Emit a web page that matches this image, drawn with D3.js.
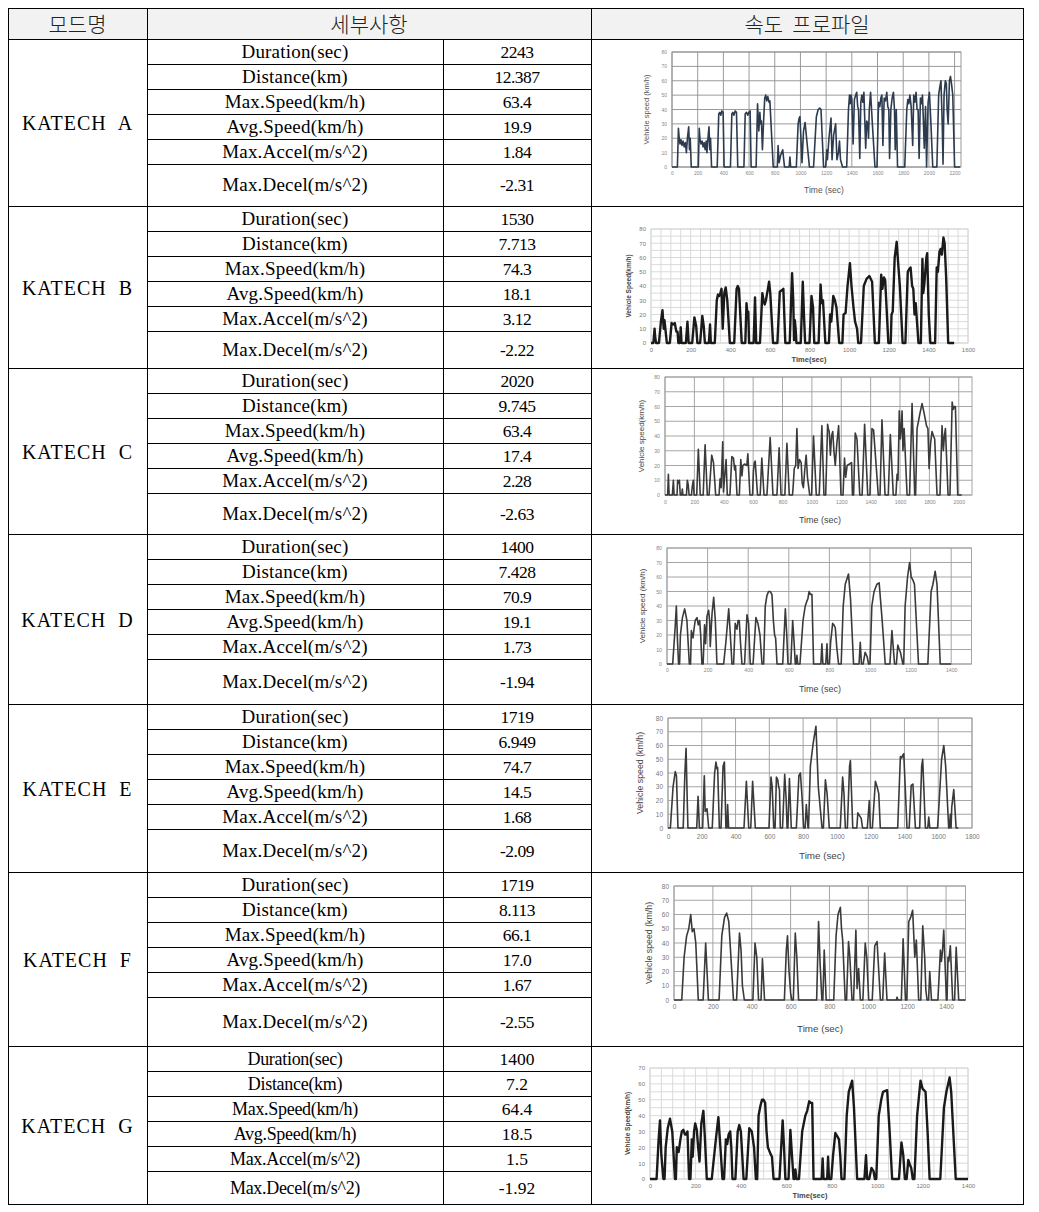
<!DOCTYPE html>
<html><head><meta charset="utf-8">
<script src="https://cdn.jsdelivr.net/npm/d3@7"></script>
<style>body{margin:0;background:#fff}text{white-space:pre}</style>
</head><body><svg id="c" width="1039" height="1212"></svg>
<script>
// ---------------- DATA ----------------
const headers = ["모드명", "세부사항", "속도  프로파일"];
const modes = ["KATECH  A","KATECH  B","KATECH  C","KATECH  D","KATECH  E","KATECH  F","KATECH  G"];
const detailLabels = ["Duration(sec)","Distance(km)","Max.Speed(km/h)","Avg.Speed(km/h)","Max.Accel(m/s^2)","Max.Decel(m/s^2)"];
const valuesA = ["2243","12.387","63.4","19.9","1.84","-2.31"];
const valuesB = ["1530","7.713","74.3","18.1","3.12","-2.22"];
const valuesC = ["2020","9.745","63.4","17.4","2.28","-2.63"];
const valuesD = ["1400","7.428","70.9","19.1","1.73","-1.94"];
const valuesE = ["1719","6.949","74.7","14.5","1.68","-2.09"];
const valuesF = ["1719","8.113","66.1","17.0","1.67","-2.55"];
const valuesG = ["1400","7.2","64.4","18.5","1.5","-1.92"];

const xTicksA = [0,200,400,600,800,1000,1200,1400,1600,1800,2000,2200];
const xTicksB = [0,200,400,600,800,1000,1200,1400,1600];
const xTicksC = [0,200,400,600,800,1000,1200,1400,1600,1800,2000];
const xTicksD = [0,200,400,600,800,1000,1200,1400];
const xTicksE = [0,200,400,600,800,1000,1200,1400,1600,1800];
const xTicksF = [0,200,400,600,800,1000,1200,1400];
const xTicksG = [0,200,400,600,800,1000,1200,1400];
const yTicks80 = [0,10,20,30,40,50,60,70,80];
const yTicks70 = [0,10,20,30,40,50,60,70];

const yTitles = ["Vehicle speed (km/h)","Vehicle Speed(km/h)","Vehicle speed(km/h)","Vehicle speed (km/h)","Vehicle speed (km/h)","Vehicle speed (km/h)","Vehicle Speed(km/h)"];
const xTitles = ["Time (sec)","Time(sec)","Time (sec)","Time (sec)","Time (sec)","Time (sec)","Time(sec)"];

// speed profiles [time(sec), speed(km/h)]
const profileA = [[0,0],[42,0],[50,27],[56,20],[62,16],[70,19],[78,15],[86,18],[95,14],[104,17],[112,10],[120,20],[130,28],[136,12],[142,20],[150,0],
[205,0],[212,27],[218,19],[226,16],[234,18],[242,14],[250,17],[258,12],[266,18],[272,10],[280,20],[288,28],[294,12],[300,20],[308,0],
[352,0],[364,37],[372,38],[380,36],[388,39],[398,38],[406,0],
[455,0],[466,37],[474,38],[482,36],[492,39],[502,38],[512,0],
[560,0],[570,37],[580,38],[590,36],[598,38],[608,39],[616,0],
[655,0],[666,44],[676,25],[684,38],[690,30],[696,32],[704,12],[712,30],[722,48],[730,50],[738,46],[746,49],[756,45],[762,46],[788,0],
[820,0],[826,15],[834,3],[845,8],[862,12],[870,5],[876,0],
[912,0],[918,7],[924,0],
[968,0],[982,30],[990,34],[996,35],[1004,20],[1012,3],[1024,25],[1036,31],[1048,20],[1070,0],
[1102,0],[1124,35],[1138,40],[1150,41],[1160,40],[1180,0],
[1196,0],[1200,5],[1205,12],[1210,5],[1222,20],[1238,34],[1246,5],[1258,22],[1274,30],[1284,5],[1296,10],[1304,18],[1312,5],[1328,0],
[1360,0],[1374,40],[1382,50],[1388,44],[1394,50],[1400,47],[1410,16],[1420,47],[1430,50],[1438,52],[1446,42],[1452,40],[1462,6],[1470,45],[1478,50],[1486,45],[1494,52],[1500,35],[1508,13],[1516,32],[1524,30],[1530,20],[1536,40],[1546,52],[1560,30],[1580,0],
[1596,0],[1608,45],[1618,42],[1626,48],[1634,50],[1642,15],[1652,48],[1662,46],[1672,52],[1680,42],[1688,40],[1694,6],[1704,40],[1714,48],[1724,52],[1732,40],[1738,12],[1746,40],[1756,0],
[1812,0],[1828,40],[1836,47],[1844,44],[1852,50],[1862,42],[1874,15],[1882,50],[1890,45],[1900,52],[1908,40],[1916,40],[1924,6],[1934,48],[1942,44],[1950,50],[1958,30],[1964,13],[1974,42],[1982,0],[1994,45],[2004,52],[2016,30],[2030,0],
[2062,0],[2076,50],[2084,55],[2094,60],[2104,30],[2110,2],[2118,50],[2128,60],[2136,58],[2142,40],[2150,30],[2160,60],[2168,63],[2176,58],[2186,50],[2200,0],[2243,0]];

const profileB = [[0,0],[12,0],[18,10],[22,3],[26,0],
[40,0],[50,15],[58,23],[64,10],[68,16],[74,8],[80,0],
[95,0],[104,14],[112,13],[120,14],[128,8],[134,8],[138,0],
[146,0],[150,11],[154,0],[176,0],[184,15],[190,0],
[208,0],[219,18],[228,12],[234,0],[248,0],[259,19],[266,12],[272,0],[292,0],[298,13],[302,0],
[322,0],[332,30],[338,34],[344,33],[350,35],[356,38],[362,10],[370,35],[377,39],[385,30],[398,0],
[420,0],[432,38],[438,40],[444,38],[458,0],
[476,0],[482,28],[487,20],[491,22],[495,0],[518,0],[525,32],[531,0],
[550,0],[562,35],[568,30],[574,27],[580,30],[590,38],[596,43],[602,35],[616,0],
[638,0],[650,36],[660,37],[668,38],[678,0],
[700,0],[712,49],[718,30],[722,2],[726,16],[730,10],[734,0],
[756,0],[766,43],[772,20],[778,0],[800,0],[810,33],[818,25],[824,0],
[846,0],[856,41],[862,28],[868,30],[880,0],
[898,0],[904,20],[910,15],[920,33],[928,30],[936,25],[950,0],
[966,0],[972,20],[982,21],[992,40],[1004,56],[1012,40],[1022,25],[1030,15],[1040,10],[1046,0],
[1060,0],[1074,40],[1088,45],[1102,47],[1116,43],[1130,0],
[1150,0],[1162,48],[1168,38],[1176,46],[1182,44],[1198,0],
[1210,0],[1214,20],[1220,22],[1230,60],[1240,71],[1248,55],[1256,40],[1270,0],
[1284,0],[1296,50],[1304,52],[1310,53],[1318,40],[1324,38],[1330,20],[1336,28],[1350,0],
[1362,0],[1370,59],[1374,35],[1380,42],[1390,60],[1394,63],[1402,20],[1410,0],
[1434,0],[1442,53],[1448,50],[1456,64],[1462,66],[1468,62],[1476,74],[1482,70],[1490,45],[1500,0],[1530,0]];

const profileC = [[0,0],[18,0],[23,14],[28,0],[50,0],[57,10],[62,0],[82,0],[86,10],[92,8],[98,10],[104,0],[114,0],[118,4],[122,0],[146,0],[152,10],[158,7],[164,0],[180,0],[186,6],[193,10],[198,0],
[216,0],[227,31],[240,0],[260,0],[273,34],[288,0],[300,0],[318,27],[330,22],[345,0],
[368,0],[375,11],[382,5],[393,36],[398,2],[404,10],[416,24],[424,0],
[442,0],[455,26],[466,25],[474,17],[480,20],[490,0],
[506,0],[516,24],[524,13],[530,20],[541,21],[557,20],[564,28],[578,0],
[596,0],[602,16],[608,22],[614,23],[630,0],[648,0],[659,25],[674,0],
[694,0],[716,39],[735,0],[762,0],[777,32],[790,0],[816,0],[830,35],[846,0],
[868,0],[872,5],[880,18],[890,20],[898,45],[906,18],[916,24],[927,22],[934,8],[942,5],[954,20],[961,27],[970,12],[985,0],
[998,0],[1011,40],[1030,0],[1050,0],[1068,47],[1082,0],
[1094,0],[1107,48],[1112,45],[1118,43],[1126,27],[1134,40],[1142,43],[1150,30],[1159,20],[1170,35],[1182,47],[1198,0],
[1212,0],[1222,25],[1230,12],[1240,20],[1256,21],[1270,22],[1276,0],
[1284,0],[1295,42],[1307,38],[1326,0],[1342,0],[1359,48],[1380,0],
[1395,0],[1409,45],[1420,44],[1452,0],[1464,0],[1477,51],[1498,0],[1520,0],[1534,41],[1554,0],
[1572,0],[1580,14],[1586,10],[1595,57],[1602,38],[1608,45],[1614,57],[1620,30],[1628,45],[1648,0],
[1665,0],[1682,62],[1700,0],
[1706,0],[1716,45],[1735,55],[1750,62],[1765,55],[1780,47],[1790,45],[1798,18],[1808,35],[1818,43],[1828,40],[1836,38],[1852,0],
[1872,0],[1886,47],[1895,30],[1902,40],[1909,45],[1927,0],
[1940,0],[1955,63],[1962,58],[1970,60],[1977,60],[1993,0],[2020,0]];

const profileD = [[0,0],[28,0],[40,25],[46,40],[52,15],[57,0],
[62,0],[66,20],[76,32],[87,38],[98,30],[110,0],
[116,0],[120,23],[128,18],[134,25],[139,30],[148,32],[154,27],[161,30],[166,20],[172,0],
[178,0],[185,27],[190,14],[197,33],[205,37],[210,30],[213,12],[222,35],[230,46],[238,30],[246,0],
[279,0],[290,15],[304,38],[312,20],[320,0],
[328,0],[336,28],[345,24],[350,30],[356,30],[362,15],[369,0],
[382,0],[394,34],[402,28],[410,0],[424,0],[438,32],[448,28],[458,20],[468,0],
[476,0],[484,40],[492,47],[500,50],[508,50],[517,48],[524,30],[530,20],[535,18],[542,0],
[570,0],[583,38],[590,20],[596,0],[610,0],[619,30],[626,15],[632,0],[636,0],[640,6],[644,0],
[655,0],[670,30],[681,40],[688,43],[694,45],[700,50],[706,48],[714,48],[722,0],
[758,0],[763,14],[768,0],[782,0],[788,14],[792,0],
[800,0],[806,15],[816,28],[822,27],[829,25],[836,12],[845,0],
[858,0],[868,40],[878,55],[894,62],[904,45],[919,0],
[946,0],[952,15],[958,0],[966,0],[976,8],[986,5],[993,0],
[1000,0],[1009,40],[1020,50],[1034,55],[1045,56],[1060,30],[1075,0],
[1098,0],[1108,23],[1121,0],[1130,0],[1137,13],[1144,10],[1150,8],[1162,0],
[1166,0],[1173,40],[1185,60],[1195,70],[1203,60],[1211,58],[1219,55],[1228,30],[1239,0],
[1285,0],[1301,50],[1310,55],[1321,64],[1330,55],[1346,0],[1400,0]];

const profileE = [[0,0],[14,0],[30,30],[43,41],[50,38],[59,0],
[90,0],[100,40],[107,58],[112,30],[118,0],[170,0],[178,23],[186,0],
[205,0],[215,38],[220,12],[226,13],[231,14],[241,0],
[262,0],[276,40],[284,48],[290,43],[294,44],[304,0],
[314,0],[326,45],[334,48],[343,0],[349,0],[353,17],[359,0],
[450,0],[464,34],[478,0],[490,0],[501,34],[517,0],
[598,0],[610,37],[617,30],[626,0],[634,0],[642,37],[650,35],[655,30],[660,28],[665,0],
[678,0],[691,39],[700,20],[705,0],[710,0],[719,36],[730,0],
[760,0],[775,38],[784,40],[795,20],[803,0],[812,0],[819,17],[829,0],
[832,0],[843,45],[860,62],[876,74],[890,30],[912,0],
[920,0],[932,35],[942,25],[955,0],
[1020,0],[1034,37],[1042,25],[1050,0],[1062,0],[1075,45],[1080,49],[1094,0],
[1118,0],[1124,11],[1134,9],[1144,7],[1152,0],[1180,0],[1192,20],[1198,0],
[1210,0],[1228,34],[1238,30],[1248,25],[1257,0],
[1360,0],[1376,52],[1384,51],[1390,53],[1396,54],[1415,0],
[1428,0],[1440,31],[1450,32],[1465,0],[1490,0],[1502,45],[1508,50],[1524,0],
[1538,0],[1544,8],[1550,0],
[1596,0],[1606,20],[1620,50],[1633,60],[1644,45],[1662,0],
[1666,0],[1672,10],[1676,0],[1680,15],[1692,28],[1706,0],[1719,0]];

const profileF = [[0,0],[40,0],[52,30],[65,45],[76,50],[86,60],[94,48],[103,50],[112,40],[125,0],
[150,0],[163,40],[177,0],
[232,0],[246,45],[260,58],[271,61],[282,55],[306,0],
[322,0],[337,47],[345,35],[352,10],[362,0],
[406,0],[417,40],[426,30],[435,0],[448,0],[455,29],[466,0],
[568,0],[578,35],[584,45],[592,20],[600,5],[606,0],[614,0],[624,47],[632,30],[641,0],
[734,0],[744,55],[752,25],[761,0],[766,0],[773,35],[783,0],
[822,0],[834,45],[844,60],[856,65],[862,50],[868,42],[881,0],
[888,0],[898,41],[905,30],[916,0],[924,0],[936,49],[942,8],[950,22],[959,0],
[972,0],[984,40],[992,30],[1002,0],[1020,0],[1033,38],[1045,41],[1062,0],
[1074,0],[1084,33],[1096,0],[1144,0],[1148,2],[1152,0],
[1170,0],[1179,43],[1191,0],
[1198,0],[1208,55],[1218,58],[1228,63],[1234,45],[1239,30],[1247,42],[1259,0],
[1270,0],[1280,52],[1290,30],[1296,7],[1302,0],[1310,0],[1316,20],[1325,0],
[1358,0],[1371,35],[1376,27],[1382,35],[1388,49],[1402,0],
[1405,0],[1410,30],[1414,27],[1422,38],[1434,0],[1444,0],[1452,37],[1465,0],[1500,0]];

const profileG = [[0,0],[29,0],[38,25],[44,37],[50,15],[59,0],
[64,0],[69,20],[78,32],[88,38],[98,30],[110,0],
[114,0],[118,20],[126,17],[134,25],[140,30],[147,31],[154,28],[160,28],[165,30],[172,0],
[178,0],[184,25],[188,14],[194,30],[199,35],[206,31],[212,20],[218,11],[226,35],[235,43],[242,25],[250,0],
[272,0],[279,10],[290,25],[301,39],[310,20],[319,0],
[326,0],[334,25],[340,22],[346,28],[353,30],[358,20],[363,0],
[376,0],[386,30],[393,34],[400,30],[412,0],[424,0],[437,32],[448,30],[458,20],[466,0],
[472,0],[478,40],[486,46],[493,50],[500,50],[507,48],[513,30],[519,20],[530,16],[537,14],[544,0],
[570,0],[584,37],[590,20],[596,0],[610,0],[618,31],[625,15],[632,0],[636,0],[640,6],[645,0],
[656,0],[670,30],[684,40],[692,43],[701,49],[708,48],[714,48],[720,0],
[756,0],[760,13],[764,0],[780,0],[784,14],[788,0],
[798,0],[806,15],[816,29],[824,27],[832,25],[838,14],[843,0],
[856,0],[866,40],[875,55],[890,62],[898,45],[912,0],
[944,0],[951,15],[956,0],[965,0],[975,7],[984,5],[990,0],
[996,0],[1007,40],[1018,50],[1026,55],[1044,56],[1055,30],[1066,0],
[1096,0],[1107,23],[1115,15],[1122,0],[1130,0],[1137,12],[1144,9],[1150,7],[1157,0],
[1164,0],[1176,40],[1186,55],[1191,62],[1200,57],[1206,56],[1213,55],[1222,30],[1231,0],
[1278,0],[1294,45],[1305,55],[1319,64],[1326,55],[1346,0],[1400,0]];

// ---------------- LAYOUT ----------------
const svg = d3.select("#c");
const colX = [8, 147, 443, 591, 1023];
const headTop = 8.5, headBot = 39.5;
const groupTop = [39.5, 206.5, 368.5, 534.5, 704.5, 872.5, 1046.5];
const tableBot = 1204.5;
const rowH = 24.9;
const allValues = [valuesA, valuesB, valuesC, valuesD, valuesE, valuesF, valuesG];
const profiles = [profileA, profileB, profileC, profileD, profileE, profileF, profileG];
const xTicks = [xTicksA, xTicksB, xTicksC, xTicksD, xTicksE, xTicksF, xTicksG];

const serif = "'Liberation Serif', 'Times New Roman', serif";
const kr = "'Noto Sans CJK KR', sans-serif";

svg.append("rect").attr("x", colX[0]).attr("y", headTop).attr("width", colX[4]-colX[0]).attr("height", headBot-headTop).attr("fill", "#f2f2f2");

function hline(x1, x2, y) {
  svg.append("line").attr("x1", x1).attr("x2", x2).attr("y1", y).attr("y2", y).attr("stroke", "#000").attr("stroke-width", 1);
}
function vline(x, y1, y2) {
  svg.append("line").attr("x1", x+0.5).attr("x2", x+0.5).attr("y1", y1).attr("y2", y2).attr("stroke", "#000").attr("stroke-width", 1);
}

const hx = [(colX[0]+colX[1])/2, (colX[1]+colX[3])/2, (colX[3]+colX[4])/2];
headers.forEach((h, i) => {
  svg.append("text").attr("x", hx[i]).attr("y", (headTop+headBot)/2 + 7.5)
    .attr("text-anchor", "middle").attr("font-family", kr).attr("font-size", 21).attr("font-weight", 300)
    .attr("fill", "#222").text(h);
});

modes.forEach((m, gi) => {
  const top = groupTop[gi];
  const bot = gi < 6 ? groupTop[gi+1] : tableBot;
  const isG = gi === 6;
  svg.append("text").attr("x", (colX[0]+colX[1])/2).attr("y", (top+bot)/2 + 7)
    .attr("text-anchor", "middle").attr("font-family", serif).attr("font-size", 20).attr("letter-spacing", 1)
    .attr("fill", "#000").text(m);
  detailLabels.forEach((lab, r) => {
    const rt = top + r*rowH;
    const rb = r < 5 ? top + (r+1)*rowH : bot;
    const cy = (rt+rb)/2 + 6;
    svg.append("text").attr("x", (colX[1]+colX[2])/2).attr("y", cy)
      .attr("text-anchor", "middle").attr("font-family", serif)
      .attr("font-size", isG ? 18 : 19).attr("letter-spacing", isG ? -0.3 : 0.2)
      .attr("fill", "#000").text(lab);
    svg.append("text").attr("x", (colX[2]+colX[3])/2).attr("y", cy)
      .attr("text-anchor", "middle").attr("font-family", serif)
      .attr("font-size", 17.5).attr("letter-spacing", isG ? 0 : -0.5)
      .attr("fill", "#000").text(allValues[gi][r]);
    if (r > 0) hline(colX[1], colX[3], Math.round(rt)+0.5);
  });
  hline(colX[0], colX[4], top);
});

hline(colX[0], colX[4]+1, headTop);
hline(colX[0], colX[4]+1, tableBot);
vline(colX[0], headTop, tableBot);
vline(colX[1], headTop, tableBot);
vline(colX[2], headBot, tableBot);
vline(colX[3], headTop, tableBot);
vline(colX[4], headTop, tableBot);

// ---------------- CHARTS ----------------
const styleA = {grid:"#8f8f8f", gridW:0.9, line:"#2c3b4e", lineW:1.6, tick:"#888", tickSize:5, title:"#555", titleSize:7.5, titleWeight:"normal"};
const styleB = {grid:"#d6d6d6", gridW:0.9, line:"#1a1a1a", lineW:2.4, tick:"#777", tickSize:6, title:"#444", titleSize:6.5, titleWeight:"bold"};
const styleC = {grid:"#9c9c9c", gridW:0.9, line:"#3a3a3a", lineW:1.6, tick:"#888", tickSize:5.2, title:"#444", titleSize:8, titleWeight:"normal"};
const styleE = {grid:"#9c9c9c", gridW:0.9, line:"#3a3a3a", lineW:1.6, tick:"#777", tickSize:6.5, title:"#444", titleSize:8.8, titleWeight:"normal"};

const charts = [
  {px0:672, px1:961, xMax:2250, py0:167, py1:52, yMax:80, yT:yTicks80, gx:200, gy:10, st:styleA, ylx:649, xly:193, xlx:824, tky:177},
  {px0:651, px1:968, xMax:1600, py0:343, py1:229, yMax:80, yT:yTicks80, gx:50, gy:5, st:styleB, ylx:631, xly:362, xlx:809, tky:354},
  {px0:665, px1:972, xMax:2090, py0:495, py1:377, yMax:80, yT:yTicks80, gx:200, gy:10, st:styleC, ylx:644, xly:523, xlx:820, tky:506},
  {px0:667, px1:971.5, xMax:1500, py0:664, py1:548, yMax:80, yT:yTicks80, gx:200, gy:10, st:styleC, ylx:645, xly:692, xlx:820, tky:674},
  {px0:668, px1:972, xMax:1800, py0:828, py1:718, yMax:80, yT:yTicks80, gx:200, gy:10, st:styleE, ylx:643, xly:859, xlx:822, tky:841},
  {px0:674, px1:965.5, xMax:1500, py0:1000, py1:886, yMax:80, yT:yTicks80, gx:200, gy:10, st:styleE, ylx:652, xly:1032, xlx:820, tky:1011},
  {px0:650, px1:968, xMax:1400, py0:1179, py1:1068, yMax:70, yT:yTicks70, gx:50, gy:5, st:styleB, ylx:630, xly:1198, xlx:810, tky:1190}
];

charts.forEach((c, i) => {
  const st = c.st;
  const g = svg.append("g");
  const x = d3.scaleLinear().domain([0, c.xMax]).range([c.px0, c.px1]);
  const y = d3.scaleLinear().domain([0, c.yMax]).range([c.py0, c.py1]);
  const gxs = d3.range(0, c.xMax + 0.001, c.gx);
  const gys = d3.range(0, c.yMax + 0.001, c.gy);
  g.selectAll("line.gx").data(gxs).join("line").attr("class", "gx")
    .attr("x1", d => x(d)).attr("x2", d => x(d)).attr("y1", y(0)).attr("y2", y(c.yMax))
    .attr("stroke", st.grid).attr("stroke-width", st.gridW);
  g.selectAll("line.gy").data(gys).join("line").attr("class", "gy")
    .attr("x1", x(0)).attr("x2", x(c.xMax)).attr("y1", d => y(d)).attr("y2", d => y(d))
    .attr("stroke", st.grid).attr("stroke-width", st.gridW);
  g.append("rect").attr("x", x(0)).attr("y", y(c.yMax)).attr("width", x(c.xMax)-x(0)).attr("height", y(0)-y(c.yMax))
    .attr("fill", "none").attr("stroke", st.grid).attr("stroke-width", st.gridW);
  const line = d3.line().x(d => x(d[0])).y(d => y(d[1]));
  g.append("path").datum(profiles[i]).attr("d", line).attr("fill", "none")
    .attr("stroke", st.line).attr("stroke-width", st.lineW).attr("stroke-linejoin", "round");
  const ax = g.append("g").attr("transform", `translate(0,${c.tky - 4})`)
    .call(d3.axisBottom(x).tickValues(xTicks[i]).tickSize(0).tickPadding(4).tickFormat(d3.format("d")));
  const ay = g.append("g").attr("transform", `translate(${c.px0},0)`)
    .call(d3.axisLeft(y).tickValues(c.yT).tickSize(0).tickPadding(5).tickFormat(d3.format("d")));
  [ax, ay].forEach(a => {
    a.select(".domain").remove();
    a.selectAll("text").attr("font-family", "'Liberation Sans', Arial, sans-serif")
      .attr("font-size", st.tickSize).attr("fill", st.tick);
  });
  ax.selectAll("text").attr("dy", "0.35em").attr("y", 0);
  g.append("text").attr("transform", `translate(${c.ylx},${(c.py0+c.py1)/2}) rotate(-90)`)
    .attr("text-anchor", "middle").attr("font-family", "'Liberation Sans', Arial, sans-serif")
    .attr("font-size", st.titleSize).attr("font-weight", st.titleWeight).attr("fill", st.title).text(yTitles[i]);
  g.append("text").attr("x", c.xlx).attr("y", c.xly)
    .attr("text-anchor", "middle").attr("font-family", "'Liberation Sans', Arial, sans-serif")
    .attr("font-size", st.titleSize + 1).attr("font-weight", st.titleWeight).attr("fill", st.title).text(xTitles[i]);
});
</script></body></html>
